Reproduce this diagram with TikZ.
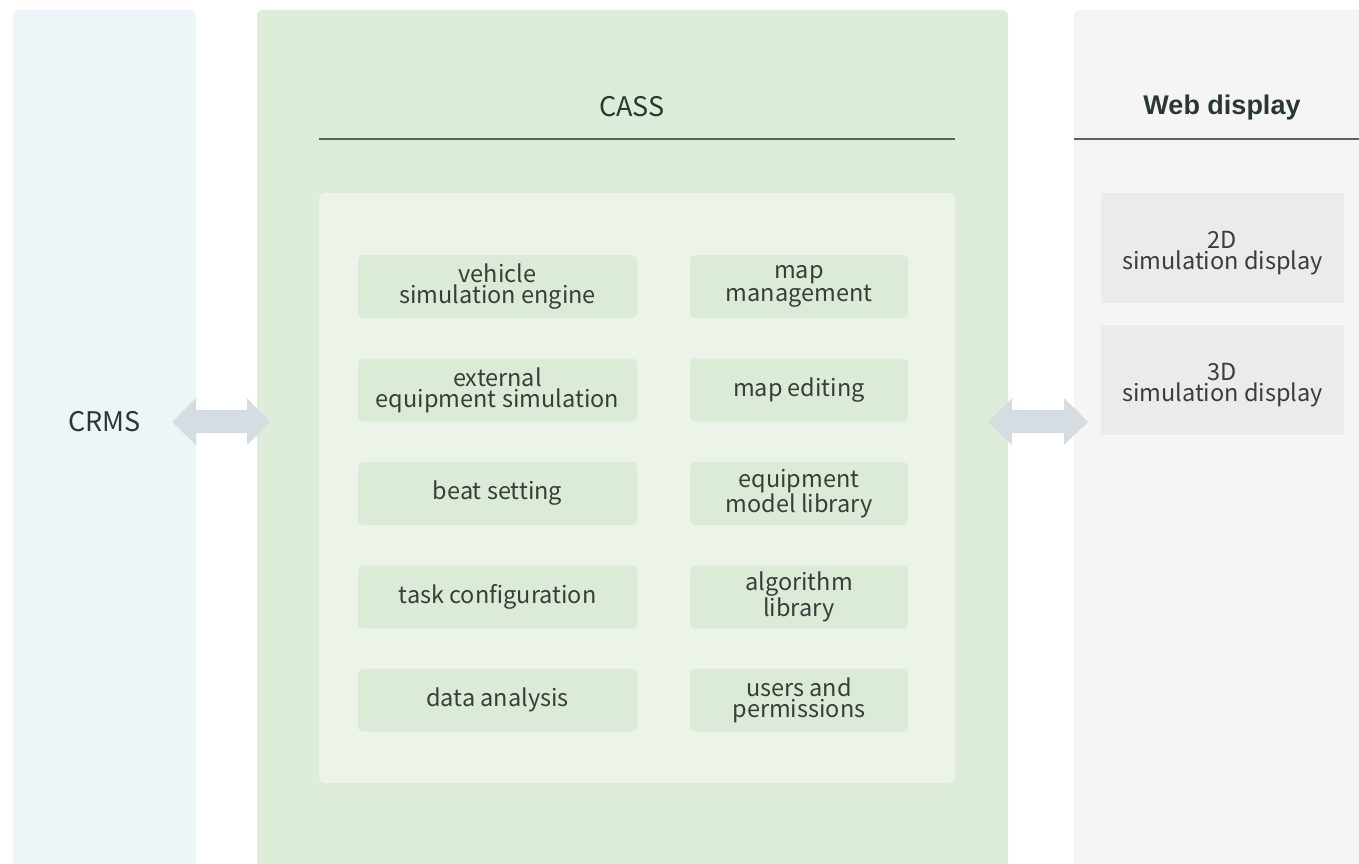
\documentclass[tikz,border=0pt]{standalone}
\usepackage{fontspec}
\newfontfamily\srcsans{Noto Sans CJK SC}
\newfontfamily\arialb{Liberation Sans}
\definecolor{crmsbg}{HTML}{EEF5F9}
\definecolor{cassbg}{HTML}{DEEDDA}
\definecolor{innerbg}{HTML}{ECF4EA}
\definecolor{boxbg}{HTML}{DCEBD7}
\definecolor{webbg}{HTML}{F5F5F5}
\definecolor{webbox}{HTML}{EBEBEB}
\definecolor{arrowc}{HTML}{D5DDE2}
\definecolor{txt}{HTML}{3A3D3A}
\definecolor{ttl}{HTML}{2A3834}
\definecolor{rule}{HTML}{56645E}
\tikzset{
  modbox/.style={fill=boxbg, rounded corners=5pt, minimum height=63pt, inner sep=0pt, align=center, text=txt, font=\srcsans\fontsize{23.5}{21}\selectfont},
  leftmod/.style={modbox, minimum width=279pt},
  rightmod/.style={modbox, minimum width=218pt},
  webmod/.style={fill=webbox, minimum width=243pt, minimum height=110pt, inner sep=0pt},
  webtxt/.style={align=center, text=txt, font=\srcsans\fontsize{23.5}{21}\selectfont},
  title/.style={text=ttl, font=\srcsans\fontsize{27}{30}\selectfont},
  rulel/.style={draw=rule, line width=1.6pt},
  dblarrow/.style={fill=arrowc}
}
\begin{document}
\begin{tikzpicture}[x=1pt,y=-1pt]
\useasboundingbox (0,0) rectangle (1359,864);
\clip (0,0) rectangle (1359,864);
\fill[white] (0,0) rectangle (1359,864);
% panels
\fill[crmsbg, rounded corners=6pt] (13,10) rectangle (196,890);
\fill[cassbg, rounded corners=6pt] (257,10) rectangle (1008,890);
\fill[webbg, rounded corners=6pt] (1074,10) rectangle (1380,890);
% titles
\node[title] (crms) at (104.5,422) {CRMS};
\node[title] (cass) at (632,107) {CASS};
\draw[rulel] (319,139) -- (955,139);
\node[text=ttl, font=\arialb\bfseries\fontsize{27}{28}\selectfont] (web) at (1222,108) {Web display};
\draw[rulel] (1074,139) -- (1380,139);
% inner box
\fill[innerbg, rounded corners=6pt] (319,193) rectangle (955,783);
% modules
\node[leftmod] (m1) at (497.5,286.5) {vehicle\\simulation engine};
\node[leftmod] (m2) at (497.5,390) {external\\equipment simulation};
\node[leftmod] (m3) at (497.5,493.5) {beat setting};
\node[leftmod] (m4) at (497.5,597) {task configuration};
\node[leftmod] (m5) at (497.5,700) {data analysis};
\node[rightmod] (n1) at (799,286.5) {map\\management};
\node[rightmod] (n2) at (799,390) {map editing};
\node[rightmod] (n3) at (799,493.5) {equipment\\model library};
\node[rightmod] (n4) at (799,597) {algorithm\\library};
\node[rightmod] (n5) at (799,700) {users and\\permissions};
% web boxes
\node[webmod] (w1) at (1222.5,248) {};
\node[webmod] (w2) at (1222.5,380) {};
\node[webtxt] (w1t) at (1222.5,253) {2D\\simulation display};
\node[webtxt] (w2t) at (1222.5,385) {3D\\simulation display};
% arrows
\fill[dblarrow] (172,422) -- (196,398) -- (196,410) -- (247,410) -- (247,398) -- (270,422) -- (247,445) -- (247,433) -- (196,433) -- (196,445) -- cycle;
\fill[dblarrow] (988,422) -- (1012,398) -- (1012,410) -- (1064,410) -- (1064,398) -- (1088,422) -- (1064,445) -- (1064,433) -- (1012,433) -- (1012,445) -- cycle;
\end{tikzpicture}
\end{document}
